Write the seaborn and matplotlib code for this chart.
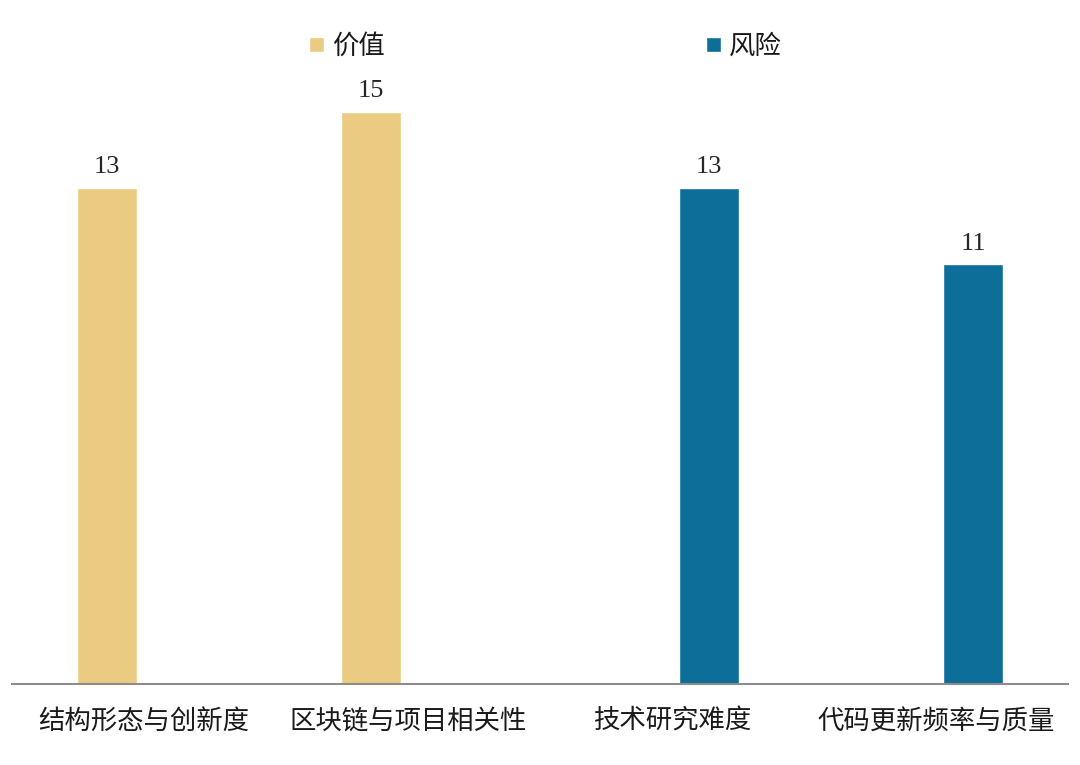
import seaborn as sns
import pandas as pd
import matplotlib.pyplot as plt

# -------------------------------------------------
# Data
# -------------------------------------------------
categories = ["结构形态与创新度", "区块链与项目相关性", "技术研究难度", "代码更新频率与质量"]
groups = ["价值", "价值", "风险", "风险"]
scores = [13, 15, 13, 11]
hue_order = ["价值", "风险"]
colors = {"价值": "#EBCB82", "风险": "#0E6E9A"}

df = pd.DataFrame({"category": categories, "group": groups, "score": scores})

sns.set_style("white")
plt.rcParams["font.family"] = ["Noto Sans CJK SC", "DejaVu Sans"]

fig = plt.figure(figsize=(10.8, 7.65), dpi=100)
ax = fig.add_axes([0.011, 0.106, 0.978, 0.79])

sns.barplot(
    data=df,
    x="category",
    y="score",
    hue="group",
    hue_order=hue_order,
    order=categories,
    palette=colors,
    saturation=1,
    width=0.56,
    gap=0.18,
    dodge=True,
    ax=ax,
)

# value labels above bars
for cont in ax.containers:
    lbls = ax.bar_label(cont, fmt="%d", padding=7, fontsize=19)
    for t in lbls:
        t.set_family("Liberation Serif")

ax.set_xlim(-0.5, 3.5)
ax.set_ylim(0, 15.84)
ax.set_xlabel("")
ax.set_ylabel("")
ax.set_yticks([])
for side in ["top", "right", "left"]:
    ax.spines[side].set_visible(False)
ax.spines["bottom"].set_color("#8C8C8C")
ax.spines["bottom"].set_linewidth(1.5)
ax.tick_params(axis="x", length=0, pad=17, labelsize=19, colors="#1a1a1a")

leg = ax.legend(
    loc="center",
    bbox_to_anchor=(0.505, 1.055),
    ncol=2,
    frameon=False,
    fontsize=19,
    handlelength=0.55,
    handleheight=0.55,
    handletextpad=0.3,
    columnspacing=12.2,
    title=None,
)
for t in leg.get_texts():
    t.set_color("#1a1a1a")

fig.savefig("out.png", dpi=100)
